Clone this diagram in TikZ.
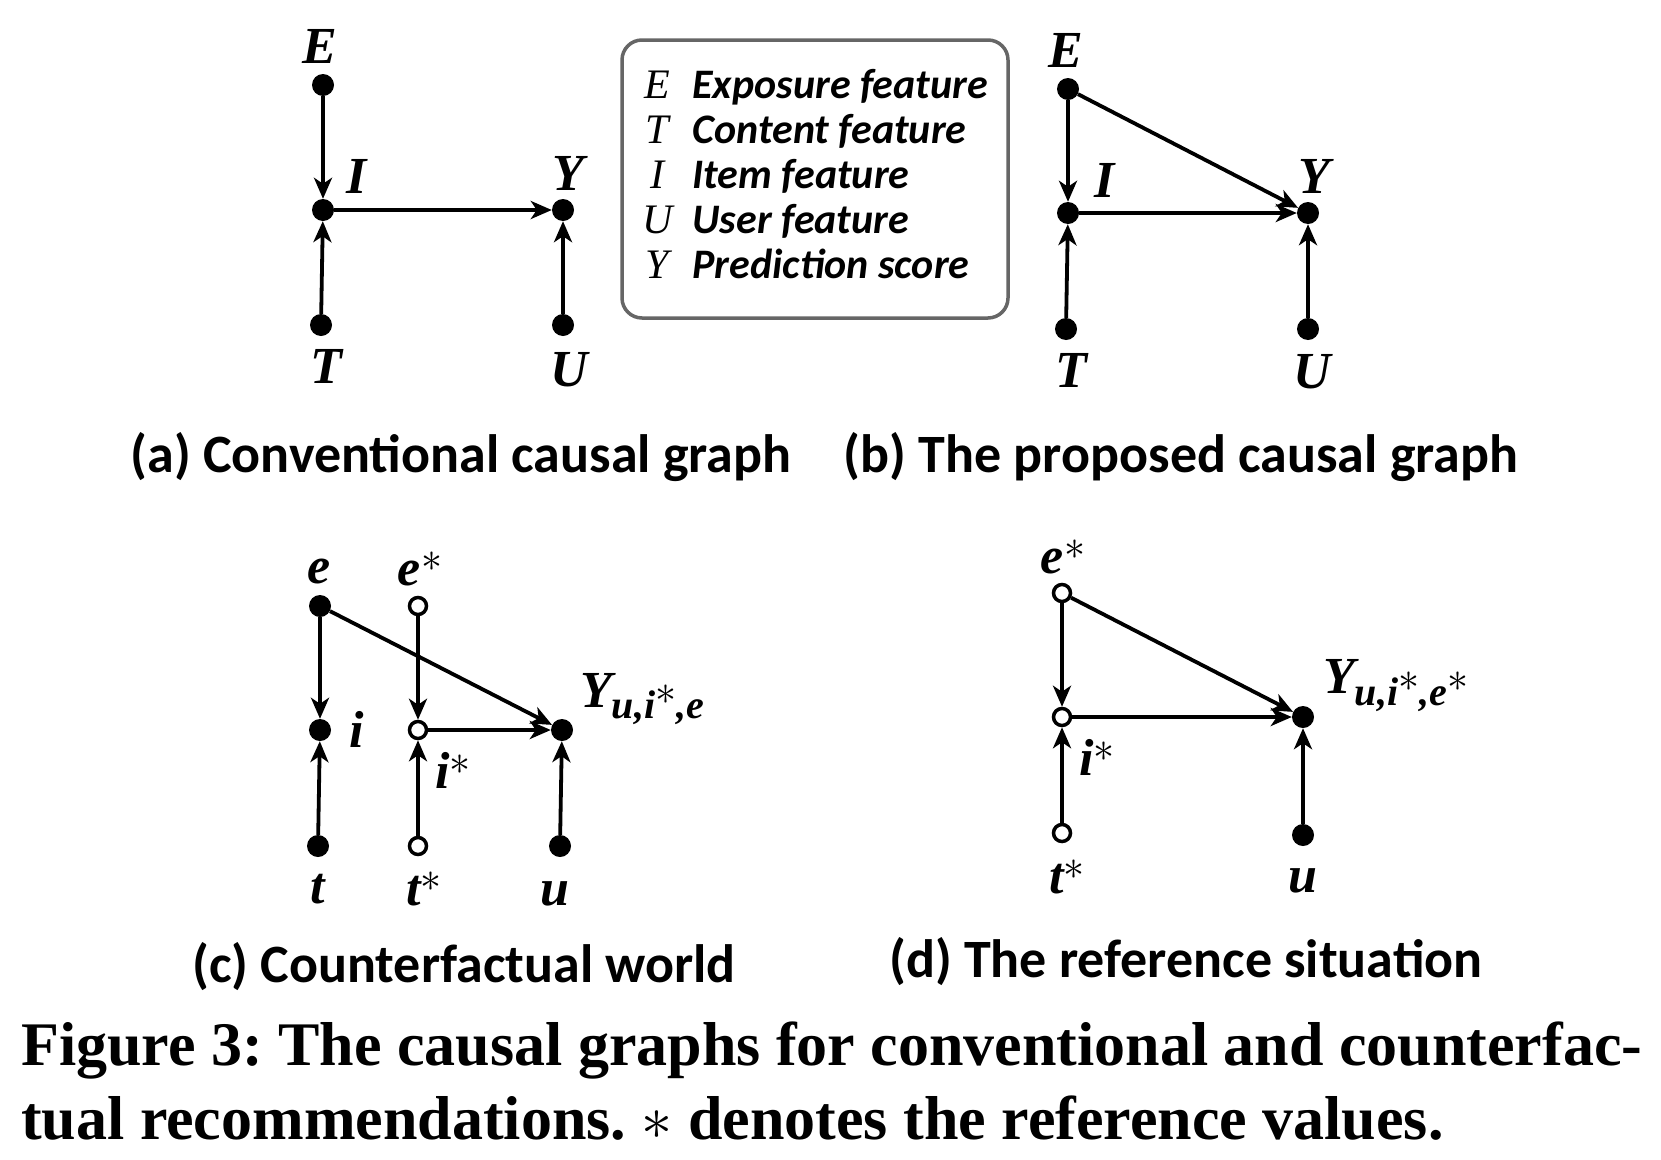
\RequirePackage{fix-cm}
\documentclass[tikz,border=0pt]{standalone}
\usepackage{fontspec}
\usetikzlibrary{arrows.meta}
\newfontfamily\romfont{Liberation Serif}
\newfontfamily\labfont{Carlito}
\newcommand{\bvar}[1]{{\romfont\bfseries\itshape #1}}
\newcommand{\refstar}{\raisebox{14pt}{\fontsize{42}{42}\selectfont$\ast$}}
\begin{document}
\begin{tikzpicture}[x=1pt,y=-1pt]
  \tikzstyle{dot}=[circle,fill=black,inner sep=0pt,minimum size=22pt]
  \tikzstyle{hollow}=[circle,draw=black,fill=white,line width=3.5pt,inner sep=0pt,minimum size=17pt]
  \tikzstyle{arc}=[black,line width=3.8pt,-{Stealth[length=21pt,width=18pt,inset=6pt]}]
  \tikzstyle{var}=[inner sep=0pt,anchor=base,font=\fontsize{52}{60}\selectfont]
  \tikzstyle{sub}=[inner sep=0pt,anchor=base,font=\labfont\bfseries\fontsize{54}{60}\selectfont]
  \tikzstyle{fig}=[inner sep=0pt,anchor=base west,font=\romfont\bfseries\frenchspacing\fontsize{62}{64}\selectfont]
  \useasboundingbox (0,0) rectangle (1661,1159);
  \node[dot] (aE) at (323,85) {};
  \node[dot] (aI) at (323,210) {};
  \node[dot] (aY) at (563,210) {};
  \node[dot] (aT) at (321,325) {};
  \node[dot] (aU) at (563,325) {};
  \node[var] (aEl) at (320,63) {\bvar{E}};
  \node[var] (aIl) at (357,193) {\bvar{I}};
  \node[var] (aYl) at (568,190) {\bvar{Y}};
  \node[var] (aTl) at (326,383) {\bvar{T}};
  \node[var] (aUl) at (569,386) {\bvar{U}};
  \draw[arc] (aE) -- (aI);
  \draw[arc] (aT) -- (aI);
  \draw[arc] (aI) -- (aY);
  \draw[arc] (aU) -- (aY);
  \node[draw=black!60,line width=3.5pt,rounded corners=20pt,minimum width=386pt,minimum height=278pt,inner sep=0pt] (legend) at (815,179) {\fontsize{42}{45}\selectfont
    \begin{tabular}{@{}c@{\hspace{20pt}}l@{}}
      {\romfont\itshape E} & {\labfont\bfseries\itshape Exposure feature}\\
      {\romfont\itshape T} & {\labfont\bfseries\itshape Content feature}\\
      {\romfont\itshape I} & {\labfont\bfseries\itshape Item feature}\\
      {\romfont\itshape U} & {\labfont\bfseries\itshape User feature}\\
      {\romfont\itshape Y} & {\labfont\bfseries\itshape Prediction score}
    \end{tabular}};
  \node[dot] (bE) at (1068,89) {};
  \node[dot] (bI) at (1068,213) {};
  \node[dot] (bY) at (1308,213) {};
  \node[dot] (bT) at (1066,329) {};
  \node[dot] (bU) at (1308,329) {};
  \node[var] (bEl) at (1066,67) {\bvar{E}};
  \node[var] (bIl) at (1105,197) {\bvar{I}};
  \node[var] (bYl) at (1314,193) {\bvar{Y}};
  \node[var] (bTl) at (1071,387) {\bvar{T}};
  \node[var] (bUl) at (1312,388) {\bvar{U}};
  \draw[arc] (bE) -- (bI);
  \draw[arc] (bT) -- (bI);
  \draw[arc] (bI) -- (bY);
  \draw[arc] (bU) -- (bY);
  \draw[arc] (bE) -- (bY);
  \node[sub] (capa) at (461,472) {(a) Conventional causal graph};
  \node[sub] (capb) at (1181,472) {(b) The proposed causal graph};
  \node[dot] (ce) at (320,606) {};
  \node[hollow] (cestar) at (418,606) {};
  \node[dot] (ci) at (320,730) {};
  \node[hollow] (cistar) at (418,730) {};
  \node[dot] (cY) at (562,730) {};
  \node[dot] (ct) at (318,846) {};
  \node[hollow] (ctstar) at (418,846) {};
  \node[dot] (cu) at (560,846) {};
  \node[var] (cel) at (319,583) {\bvar{e}};
  \node[var] (cestarl) at (420,585) {\bvar{e}\refstar};
  \node[var] (cil) at (357,747) {\bvar{i}};
  \node[var] (cistarl) at (453,788) {\bvar{i}\refstar};
  \node[var,anchor=base west] (cYl) at (580,707) {\bvar{Y}\raisebox{-11pt}{\fontsize{40}{44}\selectfont\bvar{u,i}\refstar\bvar{,e}}};
  \node[var] (ctl) at (318,903) {\bvar{t}};
  \node[var] (ctstarl) at (424,905) {\bvar{t}\refstar};
  \node[var] (cul) at (555,905) {\bvar{u}};
  \draw[arc] (ce) -- (ci);
  \draw[arc] (ct) -- (ci);
  \draw[arc] (cestar) -- (cistar);
  \draw[arc] (ctstar) -- (cistar);
  \draw[arc] (cistar) -- (cY);
  \draw[arc] (cu) -- (cY);
  \draw[arc] (ce) -- (cY);
  \node[hollow] (destar) at (1062,593) {};
  \node[hollow] (distar) at (1062,717) {};
  \node[dot] (dY) at (1303,717) {};
  \node[hollow] (dtstar) at (1062,833) {};
  \node[dot] (du) at (1303,835) {};
  \node[var] (destarl) at (1063,573) {\bvar{e}\refstar};
  \node[var,anchor=base west] (dYl) at (1323,693) {\bvar{Y}\raisebox{-12pt}{\fontsize{40}{44}\selectfont\bvar{u,i}\refstar\bvar{,e}\refstar}};
  \node[var] (distarl) at (1097,775) {\bvar{i}\refstar};
  \node[var] (dtstarl) at (1067,893) {\bvar{t}\refstar};
  \node[var] (dul) at (1303,892) {\bvar{u}};
  \draw[arc] (destar) -- (distar);
  \draw[arc] (dtstar) -- (distar);
  \draw[arc] (distar) -- (dY);
  \draw[arc] (du) -- (dY);
  \draw[arc] (destar) -- (dY);
  \node[sub] (capc) at (464,982) {(c) Counterfactual world};
  \node[sub] (capd) at (1186,977) {(d) The reference situation};
  \node[fig] (fig1) at (21,1065) {Figure 3: The causal graphs for conventional and counterfac-};
  \node[fig] (fig2) at (21,1139) {tual recommendations. $\ast$ denotes the reference values.};
\end{tikzpicture}
\end{document}
